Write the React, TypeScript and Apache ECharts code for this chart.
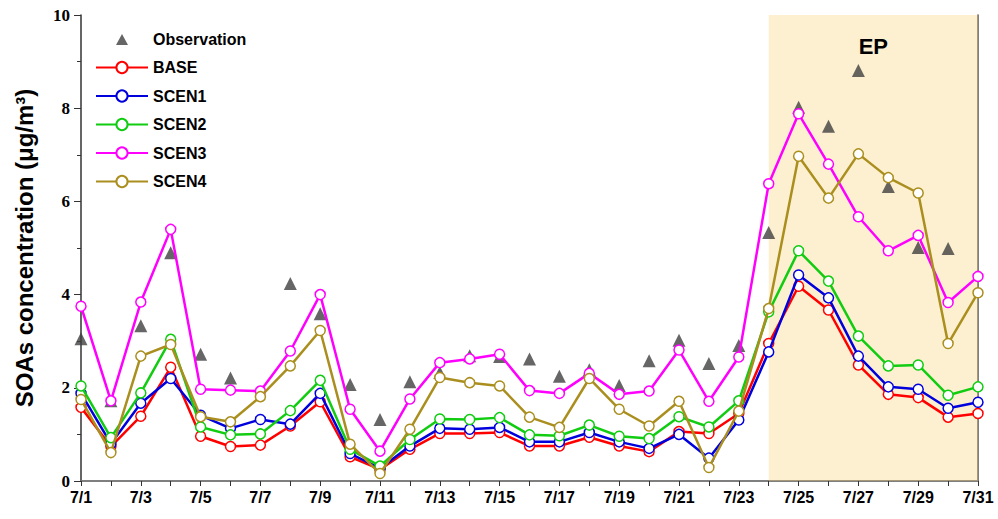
import React, { useEffect, useRef } from "react";
import * as echarts from "echarts";

const categories = [
  "7/1", "7/2", "7/3", "7/4", "7/5", "7/6", "7/7", "7/8", "7/9", "7/10",
  "7/11", "7/12", "7/13", "7/14", "7/15", "7/16", "7/17", "7/18", "7/19", "7/20",
  "7/21", "7/22", "7/23", "7/24", "7/25", "7/26", "7/27", "7/28", "7/29", "7/30", "7/31",
];

const observation: (number | null)[] = [
  3.05, 1.72, 3.33, 4.9, 2.72, 2.21, null, 4.24, 3.59, 2.07,
  1.32, 2.13, 2.33, 2.69, 2.67, 2.62, 2.25, 2.39, 2.05, 2.58,
  3.02, 2.52, 2.91, 5.33, 8.02, 7.61, 8.81, 6.32, 5.01, 4.99, null,
];

const base = [
  1.58, 0.74, 1.39, 2.44, 0.96, 0.74, 0.77, 1.18, 1.7, 0.52,
  0.25, 0.68, 1.02, 1.02, 1.04, 0.75, 0.75, 0.94, 0.75, 0.63,
  1.06, 1.02, 1.45, 2.95, 4.18, 3.67, 2.49, 1.86, 1.79, 1.37, 1.45,
];

const scen1 = [
  1.88, 0.8, 1.67, 2.2, 1.41, 1.13, 1.32, 1.22, 1.88, 0.59,
  0.27, 0.75, 1.13, 1.11, 1.15, 0.84, 0.84, 1.04, 0.84, 0.7,
  1.0, 0.49, 1.31, 2.77, 4.42, 3.93, 2.68, 2.02, 1.97, 1.56, 1.69,
];

const scen2 = [
  2.04, 0.93, 1.89, 3.04, 1.16, 0.99, 1.01, 1.51, 2.16, 0.68,
  0.32, 0.89, 1.33, 1.32, 1.36, 0.99, 0.97, 1.2, 0.96, 0.91,
  1.38, 1.16, 1.72, 3.63, 4.94, 4.29, 3.11, 2.47, 2.49, 1.84, 2.02,
];

const scen3 = [
  3.75, 1.72, 3.84, 5.4, 1.97, 1.95, 1.93, 2.79, 4.0, 1.54,
  0.64, 1.76, 2.54, 2.62, 2.72, 1.94, 1.88, 2.31, 1.86, 1.93,
  2.81, 1.71, 2.66, 6.38, 7.88, 6.8, 5.67, 4.94, 5.27, 3.83, 4.39,
];

const scen4 = [
  1.75, 0.61, 2.68, 2.93, 1.38, 1.27, 1.81, 2.47, 3.23, 0.79,
  0.16, 1.11, 2.22, 2.11, 2.04, 1.37, 1.15, 2.2, 1.54, 1.18,
  1.71, 0.29, 1.5, 3.7, 6.97, 6.07, 7.02, 6.51, 6.18, 2.95, 4.04,
];

const lineSeries = [
  { name: "BASE", data: base, color: "#FF0000" },
  { name: "SCEN1", data: scen1, color: "#0000DD" },
  { name: "SCEN2", data: scen2, color: "#11CC11" },
  { name: "SCEN3", data: scen3, color: "#FF00FF" },
  { name: "SCEN4", data: scen4, color: "#AA8E1E" },
];

const epRange = ["7/24", "7/31"];
const yTicks = { min: 0, max: 10, interval: 2 };

// legend icon: a small triangle centred in the 52x14 icon box (corner dots fix the box)
const obsLegendIcon =
  "path://M0,0L0.01,0L0.01,0.01Z M52,14L51.99,14L51.99,13.99Z M20,13L26,2L32,13Z";

export default function App() {
  const ref = useRef<HTMLDivElement>(null);

  useEffect(() => {
    if (!ref.current) return;
    const chart = echarts.init(ref.current, undefined, { renderer: "svg" });
    const sans = "Liberation Sans";
    const serif = "Liberation Serif";

    chart.setOption({
      animation: false,
      backgroundColor: "#ffffff",
      grid: { left: 81, right: 20, top: 15, bottom: 38 },
      legend: {
        data: [
          { name: "Observation", icon: obsLegendIcon },
          ...lineSeries.map((s) => s.name),
        ],
        orient: "vertical",
        left: 90,
        top: 26,
        itemWidth: 52,
        itemHeight: 14,
        itemGap: 12.5,
        textStyle: { fontFamily: sans, fontWeight: "bold", fontSize: 16, color: "#000" },
      },
      xAxis: [
        {
          type: "category",
          data: categories,
          boundaryGap: false,
          axisLine: { lineStyle: { color: "#333", width: 1.5 } },
          axisTick: { show: true, interval: 0, length: 5, lineStyle: { color: "#333" } },
          axisLabel: {
            interval: 1,
            margin: 8,
            fontFamily: sans,
            fontWeight: "bold",
            fontSize: 16,
            color: "#000",
          },
          splitLine: { show: false },
        },
        {
          type: "category",
          data: categories,
          boundaryGap: false,
          position: "top",
          axisLine: { lineStyle: { color: "#888", width: 1.5 } },
          axisTick: { show: false },
          axisLabel: { show: false },
          splitLine: { show: false },
        },
      ],
      yAxis: [
        {
          type: "value",
          min: yTicks.min,
          max: yTicks.max,
          interval: yTicks.interval,
          name: "SOAs concentration (μg/m³)",
          nameLocation: "middle",
          nameGap: 45,
          nameTextStyle: { fontFamily: sans, fontWeight: "bold", fontSize: 24, color: "#000" },
          axisLine: { show: true, lineStyle: { color: "#333", width: 1.5 } },
          axisTick: { show: true, length: 7, lineStyle: { color: "#333" } },
          minorTick: { show: true, splitNumber: 2, length: 4, lineStyle: { color: "#333" } },
          axisLabel: {
            margin: 11,
            fontFamily: serif,
            fontWeight: "bold",
            fontSize: 17,
            color: "#000",
          },
          splitLine: { show: false },
        },
        {
          type: "value",
          min: yTicks.min,
          max: yTicks.max,
          interval: yTicks.interval,
          position: "right",
          axisLine: { show: true, lineStyle: { color: "#555", width: 1.5 } },
          axisTick: { show: false },
          axisLabel: { show: false },
          splitLine: { show: false },
        },
      ],
      series: [
        {
          name: "Observation",
          type: "scatter",
          data: observation,
          symbol: "triangle",
          symbolSize: 13,
          itemStyle: { color: "#404040" },
          z: 1,
        },
        ...lineSeries.map((s, i) => ({
          name: s.name,
          type: "line",
          data: s.data,
          symbol: "circle",
          symbolSize: 10,
          showAllSymbol: true,
          lineStyle: { color: s.color, width: 2.5 },
          itemStyle: { color: "#ffffff", borderColor: s.color, borderWidth: 1.5 },
          z: 2 + i,
        })),
        {
          name: "EP",
          type: "line",
          data: [],
          z: 20,
          markArea: {
            silent: true,
            itemStyle: { color: "rgba(248,208,110,0.32)" },
            label: {
              show: true,
              position: "insideTop",
              distance: 20,
              fontFamily: sans,
              fontWeight: "bold",
              fontSize: 22,
              color: "#000",
            },
            data: [[{ xAxis: epRange[0], name: "EP" }, { xAxis: epRange[1] }]],
          },
        },
      ],
    });

    return () => chart.dispose();
  }, []);

  return (
    <div
      ref={ref}
      style={{ position: "fixed", left: 0, top: 0, width: 998, height: 519 }}
    />
  );
}
